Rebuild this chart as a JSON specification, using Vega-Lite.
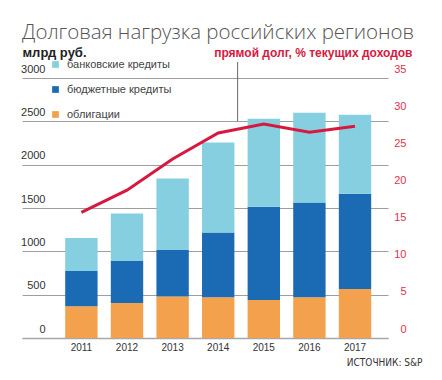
{
  "$schema": "https://vega.github.io/schema/vega-lite/v6.json",
  "autosize": {"type": "none"},
  "width": 366,
  "height": 260,
  "padding": {"left": 22, "top": 78, "right": 54, "bottom": 42},
  "background": "white",
  "title": {
    "text": "Долговая нагрузка российских регионов",
    "anchor": "start",
    "frame": "group",
    "font": "Open Sans",
    "fontWeight": 300,
    "fontSize": 20.5,
    "color": "#555555",
    "baseline": "alphabetic",
    "offset": -13
  },
  "config": {
    "view": {"stroke": null},
    "font": "Liberation Sans"
  },
  "layer": [
    {
      "data": {
        "values": [
          {"year": "2011", "type": "облигации", "value": 366},
          {"year": "2011", "type": "бюджетные кредиты", "value": 408},
          {"year": "2011", "type": "банковские кредиты", "value": 381},
          {"year": "2012", "type": "облигации", "value": 404},
          {"year": "2012", "type": "бюджетные кредиты", "value": 485},
          {"year": "2012", "type": "банковские кредиты", "value": 548},
          {"year": "2013", "type": "облигации", "value": 478},
          {"year": "2013", "type": "бюджетные кредиты", "value": 538},
          {"year": "2013", "type": "банковские кредиты", "value": 825},
          {"year": "2014", "type": "облигации", "value": 470},
          {"year": "2014", "type": "бюджетные кредиты", "value": 747},
          {"year": "2014", "type": "банковские кредиты", "value": 1040},
          {"year": "2015", "type": "облигации", "value": 439},
          {"year": "2015", "type": "бюджетные кредиты", "value": 1074},
          {"year": "2015", "type": "банковские кредиты", "value": 1017},
          {"year": "2016", "type": "облигации", "value": 470},
          {"year": "2016", "type": "бюджетные кредиты", "value": 1094},
          {"year": "2016", "type": "банковские кредиты", "value": 1035},
          {"year": "2017", "type": "облигации", "value": 566},
          {"year": "2017", "type": "бюджетные кредиты", "value": 1097},
          {"year": "2017", "type": "банковские кредиты", "value": 913}
        ]
      },
      "mark": {"type": "bar"},
      "encoding": {
        "x": {
          "field": "year",
          "type": "nominal",
          "scale": {"paddingInner": 0.29, "paddingOuter": 0.658, "align": 0.72},
          "axis": {
            "labelAngle": 0,
            "labelFontSize": 10,
            "labelColor": "#333333",
            "labelPadding": 4,
            "ticks": false,
            "domainColor": "#a8a8a8",
            "domainWidth": 1.5,
            "title": "ИСТОЧНИК: S&P",
            "titleX": 400,
            "titleY": 27,
            "titleAlign": "right",
            "titleBaseline": "alphabetic",
            "titleFont": "DejaVu Sans Condensed",
            "titleFontSize": 10,
            "titleFontWeight": "normal",
            "titleColor": "#333333"
          }
        },
        "y": {
          "field": "value",
          "type": "quantitative",
          "stack": "zero",
          "scale": {"domain": [0, 3000], "nice": false},
          "axis": {
            "values": [0, 500, 1000, 1500, 2000, 2500, 3000],
            "format": "d",
            "domain": false,
            "ticks": false,
            "tickSize": 0,
            "grid": true,
            "gridColor": "#9e9e9e",
            "gridWidth": 1,
            "labelAlign": "right",
            "labelPadding": -23,
            "labelOffset": -9,
            "labelFontSize": 11,
            "labelColor": "#333333",
            "title": "млрд руб.",
            "titleAngle": 0,
            "titleAlign": "left",
            "titleBaseline": "alphabetic",
            "titleX": 0,
            "titleY": -22,
            "titleFontSize": 13,
            "titleFontWeight": "bold",
            "titleColor": "#222222"
          }
        },
        "color": {
          "field": "type",
          "type": "nominal",
          "scale": {
            "domain": ["банковские кредиты", "бюджетные кредиты", "облигации"],
            "range": ["#86cfe0", "#1b6bb4", "#f3a14d"]
          },
          "legend": {
            "orient": "none",
            "legendX": 28,
            "legendY": -19,
            "title": null,
            "symbolType": "square",
            "symbolSize": 45,
            "symbolStrokeWidth": 0,
            "labelFontSize": 11,
            "labelColor": "#444444",
            "labelOffset": 6,
            "rowPadding": 13,
            "padding": 0
          }
        },
        "order": {"field": "type", "sort": "descending"}
      }
    },
    {
      "data": {"values": [{}]},
      "mark": {"type": "rule", "color": "#666666", "strokeWidth": 1},
      "encoding": {
        "x": {"datum": "2014", "bandPosition": 1.1},
        "y": {"datum": 2500, "scale": {"domain": [0, 3000], "nice": false}, "axis": null},
        "y2": {"datum": 3185}
      }
    },
    {
      "data": {
        "values": [
          {"year": "2011", "pct": 16.9},
          {"year": "2012", "pct": 19.9},
          {"year": "2013", "pct": 24.1},
          {"year": "2014", "pct": 27.6},
          {"year": "2015", "pct": 28.8},
          {"year": "2016", "pct": 27.7},
          {"year": "2017", "pct": 28.5}
        ]
      },
      "mark": {"type": "line", "color": "#d7193f", "strokeWidth": 3},
      "encoding": {
        "x": {"field": "year", "type": "nominal"},
        "y": {
          "field": "pct",
          "type": "quantitative",
          "scale": {"domain": [0, 35], "nice": false},
          "axis": {
            "orient": "right",
            "values": [0, 5, 10, 15, 20, 25, 30, 35],
            "domain": false,
            "ticks": false,
            "tickSize": 0,
            "grid": false,
            "labelAlign": "right",
            "labelPadding": 18,
            "labelOffset": -9,
            "labelFontSize": 11,
            "labelColor": "#e0334f",
            "title": "прямой долг, % текущих доходов",
            "titleAngle": 0,
            "titleAlign": "right",
            "titleBaseline": "alphabetic",
            "titleX": 24,
            "titleY": -22,
            "titleFontSize": 12,
            "titleFontWeight": "bold",
            "titleColor": "#d7193f"
          }
        }
      }
    }
  ],
  "resolve": {"scale": {"y": "independent"}}
}
